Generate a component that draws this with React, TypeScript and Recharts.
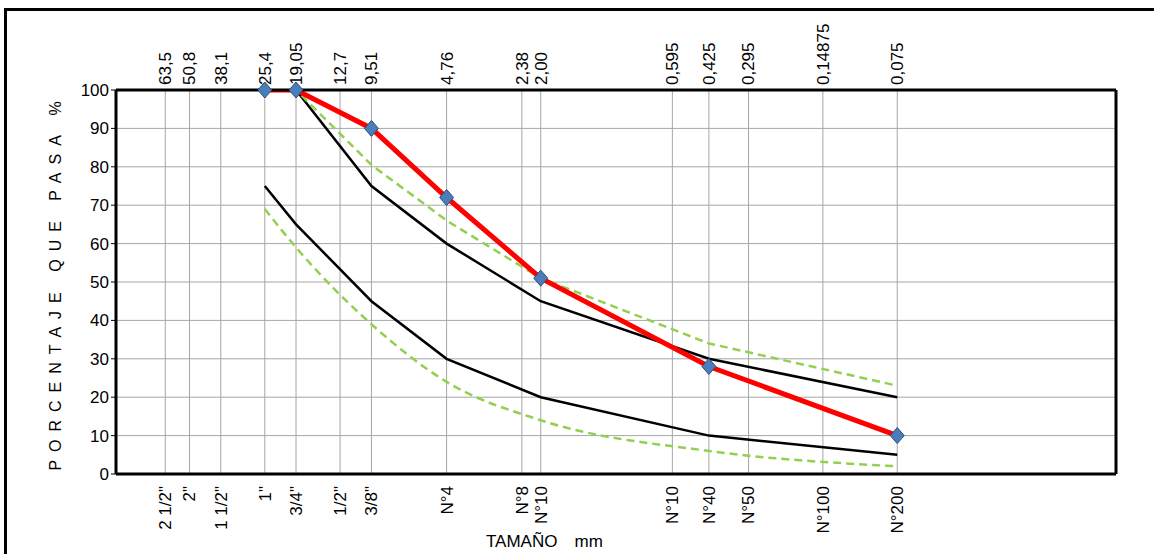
import { LineChart, Line, XAxis, YAxis, CartesianGrid, ReferenceLine } from "recharts";

// sieve openings (mm) and their names
const sieveSizes = [63.5, 50.8, 38.1, 25.4, 19.05, 12.7, 9.51, 4.76, 2.38, 2.0, 0.595, 0.425, 0.295, 0.14875, 0.075];
const mmLabels = ["63,5", "50,8", "38,1", "25,4", "19,05", "12,7", "9,51", "4,76", "2,38", "2,00", "0,595", "0,425", "0,295", "0,14875", "0,075"];
const sieveNames = ['2 1/2"', '2"', '1 1/2"', '1"', '3/4"', '1/2"', '3/8"', "N°4", "N°8", "N°10", "N°10", "N°40", "N°50", "N°100", "N°200"];

// curves
const curveSizes = [25.4, 19.05, 9.51, 4.76, 2.0, 0.425, 0.075];
const muestra = [100, 100, 90, 72, 51, 28, 10];
const limSupNegro = [100, 100, 75, 60, 45, 30, 20];
const limInfNegro = [75, 65, 45, 30, 20, 10, 5];
const limSupVerde = [100, 100, 80.5, 66, 51, 34, 23];
const limInfVerde = [69, 59, 39, 24, 14, 6, 2];

const yTicks = [0, 10, 20, 30, 40, 50, 60, 70, 80, 90, 100];

const data = curveSizes.map((size, i) => ({
  size,
  muestra: muestra[i],
  supN: limSupNegro[i],
  infN: limInfNegro[i],
  supV: limSupVerde[i],
  infV: limInfVerde[i],
}));

const FONT = '"Liberation Sans", Arial, sans-serif';

function TopTick(props: any) {
  const { x, payload } = props;
  const i = sieveSizes.indexOf(payload.value);
  return (
    <text x={x} y={85} transform={`rotate(-90 ${x} 85)`} textAnchor="start" dy="0.35em" fontSize={17} fontFamily={FONT} fill="#000">
      {mmLabels[i]}
    </text>
  );
}

function BottomTick(props: any) {
  const { x, payload } = props;
  const i = sieveSizes.indexOf(payload.value);
  return (
    <text x={x} y={486} transform={`rotate(-90 ${x} 486)`} textAnchor="end" dy="0.35em" fontSize={17} fontFamily={FONT} fill="#000">
      {sieveNames[i]}
    </text>
  );
}

function Diamond(props: any) {
  const { cx, cy } = props;
  if (cx == null || cy == null) return null;
  return (
    <path
      d={`M${cx},${cy - 8}L${cx + 7},${cy}L${cx},${cy + 8}L${cx - 7},${cy}Z`}
      fill="#4a7ebb"
      stroke="#2c4d75"
      strokeWidth={1}
    />
  );
}

function YTitle(props: any) {
  const vb = props.viewBox;
  const cy = vb.y + vb.height / 2;
  return (
    <text x={55} y={cy} transform={`rotate(-90 55 ${cy})`} textAnchor="middle" dy="0.35em" fontSize={16} fontFamily={FONT} letterSpacing={8} fill="#000">
      PORCENTAJE QUE PASA %
    </text>
  );
}

function XTitle() {
  return (
    <text x={486} y={547} fontSize={17} fontFamily={FONT} fill="#000">
      TAMAÑO
      <tspan dx={17}>mm</tspan>
    </text>
  );
}

export default function App() {
  return (
    <div style={{ position: "absolute", left: 0, top: 0, width: 1154, height: 554, background: "#fff" }}>
      <div
        style={{
          position: "absolute",
          left: 4,
          top: 8,
          width: 1150,
          height: 546,
          borderTop: "3px solid #000",
          borderLeft: "3px solid #000",
          boxSizing: "border-box",
        }}
      />
      <div style={{ position: "absolute", left: 0, top: 0 }}>
        <LineChart width={1154} height={554} data={data} margin={{ top: 10, right: 38, bottom: 10, left: 56 }}>
          <CartesianGrid stroke="#a6a6a6" strokeWidth={1} />
          <XAxis
            dataKey="size"
            type="number"
            scale="log"
            domain={[0.01, 100]}
            reversed
            allowDataOverflow
            ticks={sieveSizes}
            interval={0}
            height={70}
            axisLine={{ stroke: "#000", strokeWidth: 3 }}
            tickLine={false}
            tick={BottomTick}
            label={<XTitle />}
          />
          <XAxis
            xAxisId="top"
            orientation="top"
            dataKey="size"
            type="number"
            scale="log"
            domain={[0.01, 100]}
            reversed
            allowDataOverflow
            ticks={sieveSizes}
            interval={0}
            height={80}
            axisLine={{ stroke: "#000", strokeWidth: 3 }}
            tickLine={false}
            tick={TopTick}
          />
          <YAxis
            domain={[0, 100]}
            ticks={yTicks}
            interval={0}
            width={60}
            allowDataOverflow
            axisLine={{ stroke: "#000", strokeWidth: 3 }}
            tickLine={{ stroke: "#000" }}
            tickSize={5}
            tickMargin={2}
            tick={{ fontSize: 17, fontFamily: FONT, fill: "#000" }}
            label={<YTitle />}
          />
          <YAxis yAxisId="mk" domain={[0, 100]} hide />
          <ReferenceLine x={0.01} stroke="#000" strokeWidth={3} />
          <Line type="linear" dataKey="supN" stroke="#000" strokeWidth={2.5} dot={false} isAnimationActive={false} />
          <Line type="linear" dataKey="infN" stroke="#000" strokeWidth={2.5} dot={false} isAnimationActive={false} />
          <Line type="linear" dataKey="supV" stroke="#92d050" strokeWidth={2.5} strokeDasharray="8 5" dot={false} isAnimationActive={false} />
          <Line type="monotone" dataKey="infV" stroke="#92d050" strokeWidth={2.5} strokeDasharray="8 5" dot={false} isAnimationActive={false} />
          <Line type="linear" dataKey="muestra" stroke="#ff0000" strokeWidth={5} dot={false} isAnimationActive={false} />
          <Line yAxisId="mk" type="linear" dataKey="muestra" stroke="none" dot={<Diamond />} activeDot={false} isAnimationActive={false} />
        </LineChart>
      </div>
    </div>
  );
}
